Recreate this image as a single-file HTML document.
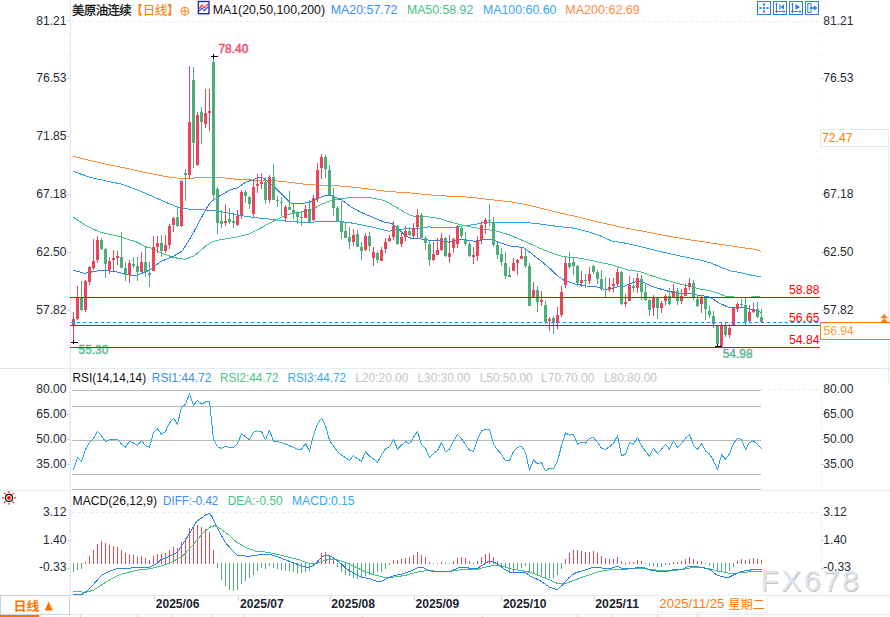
<!DOCTYPE html>
<html><head><meta charset="utf-8"><title>chart</title>
<style>html,body{margin:0;padding:0;background:#fff;overflow:hidden}body{width:890px;height:617px;font-family:"Liberation Sans",sans-serif}</style></head>
<body>
<svg width="890" height="617" viewBox="0 0 890 617" style="display:block">
<rect width="890" height="617" fill="#ffffff"/>
<g shape-rendering="crispEdges" stroke="#e3ebf2" stroke-width="1">
<line x1="70.5" y1="0" x2="70.5" y2="596"/>
<line x1="0" y1="368.5" x2="890" y2="368.5"/>
<line x1="0" y1="490.5" x2="71" y2="490.5"/>
<line x1="761" y1="490.5" x2="890" y2="490.5"/>
<line x1="0" y1="595.5" x2="890" y2="595.5"/>
<line x1="70" y1="614.5" x2="890" y2="614.5"/>
<line x1="888.5" y1="129" x2="888.5" y2="384"/>
</g>
<g shape-rendering="crispEdges" stroke="#e4edf4" stroke-width="1" stroke-dasharray="3 3">
<line x1="72" y1="21.5" x2="818" y2="21.5"/>
<line x1="761" y1="389.5" x2="818" y2="389.5"/>
<line x1="72" y1="512.5" x2="818" y2="512.5"/>
</g>
<g shape-rendering="crispEdges" stroke="#c9d6e2" stroke-width="1"><line x1="67" y1="20.5" x2="70" y2="20.5"/><line x1="69" y1="32.5" x2="70" y2="32.5"/><line x1="821" y1="32.5" x2="822" y2="32.5"/><line x1="69" y1="43.5" x2="70" y2="43.5"/><line x1="821" y1="43.5" x2="822" y2="43.5"/><line x1="69" y1="55.5" x2="70" y2="55.5"/><line x1="821" y1="55.5" x2="822" y2="55.5"/><line x1="69" y1="66.5" x2="70" y2="66.5"/><line x1="821" y1="66.5" x2="822" y2="66.5"/><line x1="67" y1="78.5" x2="70" y2="78.5"/><line x1="821" y1="78.5" x2="824" y2="78.5"/><line x1="69" y1="90.5" x2="70" y2="90.5"/><line x1="821" y1="90.5" x2="822" y2="90.5"/><line x1="69" y1="101.5" x2="70" y2="101.5"/><line x1="821" y1="101.5" x2="822" y2="101.5"/><line x1="69" y1="113.5" x2="70" y2="113.5"/><line x1="821" y1="113.5" x2="822" y2="113.5"/><line x1="69" y1="124.5" x2="70" y2="124.5"/><line x1="821" y1="124.5" x2="822" y2="124.5"/><line x1="67" y1="136.5" x2="70" y2="136.5"/><line x1="821" y1="136.5" x2="824" y2="136.5"/><line x1="69" y1="148.5" x2="70" y2="148.5"/><line x1="821" y1="148.5" x2="822" y2="148.5"/><line x1="69" y1="159.5" x2="70" y2="159.5"/><line x1="821" y1="159.5" x2="822" y2="159.5"/><line x1="69" y1="171.5" x2="70" y2="171.5"/><line x1="821" y1="171.5" x2="822" y2="171.5"/><line x1="69" y1="182.5" x2="70" y2="182.5"/><line x1="821" y1="182.5" x2="822" y2="182.5"/><line x1="67" y1="194.5" x2="70" y2="194.5"/><line x1="821" y1="194.5" x2="824" y2="194.5"/><line x1="69" y1="206.5" x2="70" y2="206.5"/><line x1="821" y1="206.5" x2="822" y2="206.5"/><line x1="69" y1="217.5" x2="70" y2="217.5"/><line x1="821" y1="217.5" x2="822" y2="217.5"/><line x1="69" y1="229.5" x2="70" y2="229.5"/><line x1="821" y1="229.5" x2="822" y2="229.5"/><line x1="69" y1="240.5" x2="70" y2="240.5"/><line x1="821" y1="240.5" x2="822" y2="240.5"/><line x1="67" y1="252.5" x2="70" y2="252.5"/><line x1="821" y1="252.5" x2="824" y2="252.5"/><line x1="69" y1="264.5" x2="70" y2="264.5"/><line x1="821" y1="264.5" x2="822" y2="264.5"/><line x1="69" y1="275.5" x2="70" y2="275.5"/><line x1="821" y1="275.5" x2="822" y2="275.5"/><line x1="69" y1="287.5" x2="70" y2="287.5"/><line x1="821" y1="287.5" x2="822" y2="287.5"/><line x1="69" y1="298.5" x2="70" y2="298.5"/><line x1="821" y1="298.5" x2="822" y2="298.5"/><line x1="67" y1="310.5" x2="70" y2="310.5"/><line x1="821" y1="310.5" x2="824" y2="310.5"/><line x1="69" y1="322.5" x2="70" y2="322.5"/><line x1="821" y1="322.5" x2="822" y2="322.5"/><line x1="69" y1="333.5" x2="70" y2="333.5"/><line x1="821" y1="333.5" x2="822" y2="333.5"/><line x1="69" y1="345.5" x2="70" y2="345.5"/><line x1="821" y1="345.5" x2="822" y2="345.5"/><line x1="69" y1="356.5" x2="70" y2="356.5"/><line x1="821" y1="356.5" x2="822" y2="356.5"/></g>
<g shape-rendering="crispEdges" stroke="#d5e0ea" stroke-width="1" stroke-dasharray="1 2">
<line x1="69.5" y1="392" x2="69.5" y2="488"/><line x1="821.5" y1="393" x2="821.5" y2="485"/>
<line x1="69.5" y1="506" x2="69.5" y2="594"/><line x1="821.5" y1="506" x2="821.5" y2="594"/>
</g>
<text x="66.50" y="24.51" font-size="12.10" fill="#262b38" font-family="Liberation Sans, sans-serif" text-anchor="end" >81.21</text>
<text x="823.30" y="24.51" font-size="12.10" fill="#262b38" font-family="Liberation Sans, sans-serif" >81.21</text>
<text x="66.50" y="82.48" font-size="12.10" fill="#262b38" font-family="Liberation Sans, sans-serif" text-anchor="end" >76.53</text>
<text x="823.30" y="82.48" font-size="12.10" fill="#262b38" font-family="Liberation Sans, sans-serif" >76.53</text>
<text x="66.50" y="140.44" font-size="12.10" fill="#262b38" font-family="Liberation Sans, sans-serif" text-anchor="end" >71.85</text>
<text x="823.30" y="140.44" font-size="12.10" fill="#262b38" font-family="Liberation Sans, sans-serif" >71.85</text>
<text x="66.50" y="198.28" font-size="12.10" fill="#262b38" font-family="Liberation Sans, sans-serif" text-anchor="end" >67.18</text>
<text x="823.30" y="198.28" font-size="12.10" fill="#262b38" font-family="Liberation Sans, sans-serif" >67.18</text>
<text x="66.50" y="256.24" font-size="12.10" fill="#262b38" font-family="Liberation Sans, sans-serif" text-anchor="end" >62.50</text>
<text x="823.30" y="256.24" font-size="12.10" fill="#262b38" font-family="Liberation Sans, sans-serif" >62.50</text>
<text x="66.50" y="314.20" font-size="12.10" fill="#262b38" font-family="Liberation Sans, sans-serif" text-anchor="end" >57.82</text>
<text x="823.30" y="314.20" font-size="12.10" fill="#262b38" font-family="Liberation Sans, sans-serif" >57.82</text>
<text x="66.50" y="393.10" font-size="12.10" fill="#262b38" font-family="Liberation Sans, sans-serif" text-anchor="end" >80.00</text>
<text x="823.30" y="393.10" font-size="12.10" fill="#262b38" font-family="Liberation Sans, sans-serif" >80.00</text>
<text x="66.50" y="418.10" font-size="12.10" fill="#262b38" font-family="Liberation Sans, sans-serif" text-anchor="end" >65.00</text>
<text x="823.30" y="418.10" font-size="12.10" fill="#262b38" font-family="Liberation Sans, sans-serif" >65.00</text>
<text x="66.50" y="442.90" font-size="12.10" fill="#262b38" font-family="Liberation Sans, sans-serif" text-anchor="end" >50.00</text>
<text x="823.30" y="442.90" font-size="12.10" fill="#262b38" font-family="Liberation Sans, sans-serif" >50.00</text>
<text x="66.50" y="468.10" font-size="12.10" fill="#262b38" font-family="Liberation Sans, sans-serif" text-anchor="end" >35.00</text>
<text x="823.30" y="468.10" font-size="12.10" fill="#262b38" font-family="Liberation Sans, sans-serif" >35.00</text>
<text x="66.50" y="516.10" font-size="12.10" fill="#262b38" font-family="Liberation Sans, sans-serif" text-anchor="end" >3.12</text>
<text x="823.30" y="516.10" font-size="12.10" fill="#262b38" font-family="Liberation Sans, sans-serif" >3.12</text>
<text x="66.50" y="543.50" font-size="12.10" fill="#262b38" font-family="Liberation Sans, sans-serif" text-anchor="end" >1.40</text>
<text x="823.30" y="543.50" font-size="12.10" fill="#262b38" font-family="Liberation Sans, sans-serif" >1.40</text>
<text x="66.50" y="571.40" font-size="12.10" fill="#262b38" font-family="Liberation Sans, sans-serif" text-anchor="end" >-0.33</text>
<g shape-rendering="crispEdges" stroke="#c9d6e2" stroke-width="1"><line x1="821" y1="414.5" x2="824" y2="414.5"/><line x1="67" y1="414.5" x2="70" y2="414.5"/><line x1="821" y1="439.5" x2="824" y2="439.5"/><line x1="67" y1="439.5" x2="70" y2="439.5"/><line x1="821" y1="464.5" x2="824" y2="464.5"/><line x1="67" y1="464.5" x2="70" y2="464.5"/><line x1="821" y1="540.5" x2="824" y2="540.5"/><line x1="67" y1="540.5" x2="70" y2="540.5"/><line x1="821" y1="568.5" x2="824" y2="568.5"/><line x1="67" y1="568.5" x2="70" y2="568.5"/></g>
<g shape-rendering="crispEdges" stroke="#b9b9b9" stroke-width="1">
<line x1="72" y1="390.5" x2="761" y2="390.5"/>
<line x1="72" y1="406.5" x2="761" y2="406.5"/>
<line x1="72" y1="440.5" x2="761" y2="440.5"/>
<line x1="72" y1="474.5" x2="761" y2="474.5"/>
<line x1="72" y1="489.5" x2="761" y2="489.5"/>
</g>
<polyline fill="none" stroke="#ff8b34" stroke-width="1.00" stroke-linejoin="round" stroke-linecap="round" points="73.1,156.2 86.2,159.6 106.5,164.3 126.7,168.3 146.9,172.8 167.1,176.8 177.2,178.0 190.2,178.2 203.7,177.5 223.9,177.9 237.4,179.3 254.3,180.1 271.1,180.3 288.0,182.1 304.8,184.2 320.0,185.4 335.3,185.6 360.6,187.9 385.8,191.3 411.1,193.0 436.4,195.5 450.0,196.2 470.2,197.2 490.5,199.6 510.7,201.8 526.9,204.7 543.0,208.7 559.2,212.8 575.4,216.4 591.6,220.5 607.8,224.1 621.9,227.5 640.5,230.7 660.7,234.8 680.9,238.4 701.1,241.5 721.4,244.5 741.6,247.5 753.7,249.1 760.8,251.2" shape-rendering="crispEdges"/>
<polyline fill="none" stroke="#2ea7e0" stroke-width="1.00" stroke-linejoin="round" stroke-linecap="round" points="73.1,171.4 90.3,177.4 106.5,181.1 120.6,183.8 136.8,189.6 153.0,196.6 169.2,203.7 181.3,208.2 191.4,209.4 212.1,210.3 225.6,212.5 242.5,215.8 254.3,217.5 271.1,219.2 288.0,221.4 304.8,222.3 320.0,221.8 323.5,221.1 340.3,221.6 353.8,223.3 374.0,227.5 389.2,231.3 395.5,229.5 401.0,229.2 417.4,228.3 429.2,226.9 437.6,228.0 451.1,227.8 459.6,226.3 471.4,225.0 483.1,222.8 494.5,222.4 526.9,222.5 541.0,224.1 555.2,226.1 573.4,228.1 587.5,231.6 599.7,235.6 612.1,241.2 624.5,243.0 640.5,246.6 660.7,251.6 680.9,256.2 701.1,260.3 711.2,263.1 717.6,266.0 725.4,268.8 731.1,271.1 741.6,272.8 748.0,274.4 753.7,275.8 761.0,276.6" shape-rendering="crispEdges"/>
<polyline fill="none" stroke="#45c285" stroke-width="1.00" stroke-linejoin="round" stroke-linecap="round" points="73.1,217.0 86.2,225.8 100.0,232.0 121.0,237.0 136.8,242.1 146.0,246.9 153.0,248.5 160.4,252.6 173.9,257.6 184.8,259.3 194.1,256.0 205.9,245.8 211.0,242.5 217.2,240.3 237.4,236.9 249.2,234.0 261.0,227.8 272.8,221.4 284.6,215.6 294.7,212.8 304.8,211.6 313.3,209.1 320.1,204.8 331.9,200.2 343.7,198.4 353.8,197.2 369.0,197.5 384.2,200.4 393.8,205.9 403.9,211.8 412.4,216.0 425.8,216.6 439.3,218.4 451.1,222.2 460.0,224.6 472.2,227.2 484.4,229.2 498.5,231.4 510.7,235.4 524.8,241.4 539.0,247.9 551.1,252.8 563.3,256.7 579.4,258.1 595.6,261.4 611.8,264.9 628.2,270.0 640.0,271.6 650.2,275.3 663.7,279.5 678.9,283.7 689.0,286.2 700.8,289.3 709.2,290.5 719.3,293.8 726.1,296.3 731.5,296.5 736.0,297.4 750.0,297.4 752.0,296.5 760.0,296.5" shape-rendering="crispEdges"/>
<polyline fill="none" stroke="#2b83ea" stroke-width="1.00" stroke-linejoin="round" stroke-linecap="round" points="73.4,270.2 84.5,273.3 101.4,270.2 116.6,271.9 130.0,275.3 136.8,275.3 148.6,270.6 160.4,261.8 173.9,256.0 182.3,250.9 190.7,237.4 197.0,226.0 205.4,210.0 210.5,202.4 217.2,197.3 230.7,189.7 237.4,188.0 245.8,182.1 254.3,179.6 257.6,177.4 261.9,177.4 266.1,180.1 274.5,187.2 282.9,195.6 289.7,202.4 293.0,203.7 303.2,203.2 309.9,202.3 318.4,198.0 326.0,195.2 331.9,195.5 342.0,200.1 350.4,206.5 360.6,212.2 372.0,217.0 383.7,221.9 392.3,223.8 398.5,229.0 405.0,235.6 412.0,238.7 424.2,239.1 432.6,241.0 441.0,240.5 449.5,242.3 458.0,239.4 466.2,239.8 474.5,241.2 484.6,239.6 492.5,239.7 500.6,243.0 510.7,246.1 523.5,247.5 532.0,254.0 541.0,260.9 547.3,266.2 557.4,275.6 564.2,280.5 574.3,283.9 586.1,286.0 595.0,286.1 600.9,288.4 605.5,289.9 610.2,288.8 617.2,287.0 623.0,286.8 628.9,284.1 635.9,281.8 641.7,281.5 646.4,283.5 650.0,285.6 657.0,287.9 665.4,290.5 675.5,293.0 685.6,293.8 692.4,293.8 699.1,295.5 707.5,296.4 712.6,298.9 719.3,303.1 727.8,307.0 734.5,307.6 742.9,307.3 749.7,309.0 756.4,310.3 761.1,312.4" shape-rendering="crispEdges"/>
<g shape-rendering="crispEdges" fill="#e8465b"><rect x="72" y="319" width="3" height="6"/><rect x="73" y="312" width="1" height="30"/><rect x="76" y="298" width="3" height="21"/><rect x="77" y="286" width="1" height="34"/><rect x="84" y="281" width="3" height="29"/><rect x="85" y="280" width="1" height="32"/><rect x="88" y="267" width="3" height="15"/><rect x="89" y="266" width="1" height="19"/><rect x="92" y="261" width="3" height="7"/><rect x="93" y="239" width="1" height="31"/><rect x="96" y="240" width="3" height="20"/><rect x="97" y="236" width="1" height="27"/><rect x="108" y="261" width="3" height="9"/><rect x="109" y="257" width="1" height="17"/><rect x="112" y="258" width="3" height="2"/><rect x="113" y="250" width="1" height="21"/><rect x="116" y="256" width="3" height="2"/><rect x="117" y="251" width="1" height="14"/><rect x="128" y="263" width="3" height="12"/><rect x="129" y="260" width="1" height="23"/><rect x="140" y="262" width="3" height="10"/><rect x="141" y="252" width="1" height="20"/><rect x="152" y="247" width="3" height="24"/><rect x="153" y="236" width="1" height="35"/><rect x="156" y="243" width="3" height="4"/><rect x="157" y="236" width="1" height="17"/><rect x="164" y="245" width="3" height="6"/><rect x="165" y="235" width="1" height="18"/><rect x="168" y="226" width="3" height="19"/><rect x="169" y="224" width="1" height="25"/><rect x="172" y="218" width="3" height="7"/><rect x="173" y="217" width="1" height="15"/><rect x="180" y="181" width="3" height="45"/><rect x="181" y="180" width="1" height="47"/><rect x="188" y="122" width="3" height="53"/><rect x="189" y="66" width="1" height="112"/><rect x="196" y="115" width="3" height="50"/><rect x="197" y="112" width="1" height="54"/><rect x="204" y="113" width="3" height="11"/><rect x="205" y="89" width="1" height="39"/><rect x="208" y="111" width="3" height="2"/><rect x="209" y="89" width="1" height="42"/><rect x="224" y="221" width="3" height="2"/><rect x="225" y="204" width="1" height="22"/><rect x="236" y="216" width="3" height="9"/><rect x="237" y="210" width="1" height="16"/><rect x="240" y="192" width="3" height="23"/><rect x="241" y="190" width="1" height="29"/><rect x="252" y="187" width="3" height="27"/><rect x="253" y="180" width="1" height="37"/><rect x="256" y="184" width="3" height="2"/><rect x="257" y="174" width="1" height="19"/><rect x="260" y="182" width="3" height="2"/><rect x="261" y="173" width="1" height="16"/><rect x="268" y="177" width="3" height="23"/><rect x="269" y="175" width="1" height="28"/><rect x="284" y="207" width="3" height="11"/><rect x="285" y="205" width="1" height="17"/><rect x="304" y="209" width="3" height="9"/><rect x="305" y="205" width="1" height="13"/><rect x="312" y="198" width="3" height="22"/><rect x="313" y="195" width="1" height="26"/><rect x="316" y="170" width="3" height="28"/><rect x="317" y="163" width="1" height="39"/><rect x="320" y="157" width="3" height="11"/><rect x="321" y="154" width="1" height="25"/><rect x="352" y="235" width="3" height="7"/><rect x="353" y="229" width="1" height="17"/><rect x="364" y="236" width="3" height="14"/><rect x="365" y="233" width="1" height="18"/><rect x="372" y="252" width="3" height="6"/><rect x="373" y="247" width="1" height="19"/><rect x="380" y="250" width="3" height="11"/><rect x="381" y="247" width="1" height="14"/><rect x="384" y="242" width="3" height="7"/><rect x="385" y="238" width="1" height="15"/><rect x="388" y="238" width="3" height="3"/><rect x="389" y="235" width="1" height="7"/><rect x="392" y="226" width="3" height="11"/><rect x="393" y="221" width="1" height="19"/><rect x="400" y="237" width="3" height="7"/><rect x="401" y="232" width="1" height="15"/><rect x="404" y="231" width="3" height="6"/><rect x="405" y="226" width="1" height="15"/><rect x="412" y="228" width="3" height="8"/><rect x="413" y="223" width="1" height="15"/><rect x="416" y="215" width="3" height="12"/><rect x="417" y="209" width="1" height="29"/><rect x="432" y="254" width="3" height="6"/><rect x="433" y="242" width="1" height="19"/><rect x="436" y="250" width="3" height="5"/><rect x="437" y="238" width="1" height="17"/><rect x="440" y="238" width="3" height="12"/><rect x="441" y="233" width="1" height="18"/><rect x="448" y="253" width="3" height="4"/><rect x="449" y="235" width="1" height="28"/><rect x="452" y="239" width="3" height="9"/><rect x="453" y="238" width="1" height="15"/><rect x="456" y="227" width="3" height="17"/><rect x="457" y="225" width="1" height="23"/><rect x="472" y="255" width="3" height="2"/><rect x="473" y="247" width="1" height="17"/><rect x="476" y="240" width="3" height="16"/><rect x="477" y="236" width="1" height="25"/><rect x="480" y="225" width="3" height="15"/><rect x="481" y="221" width="1" height="23"/><rect x="484" y="220" width="3" height="4"/><rect x="485" y="218" width="1" height="16"/><rect x="512" y="263" width="3" height="8"/><rect x="513" y="258" width="1" height="13"/><rect x="516" y="260" width="3" height="3"/><rect x="517" y="259" width="1" height="16"/><rect x="520" y="256" width="3" height="3"/><rect x="521" y="248" width="1" height="11"/><rect x="532" y="290" width="3" height="7"/><rect x="533" y="282" width="1" height="16"/><rect x="540" y="300" width="3" height="2"/><rect x="541" y="291" width="1" height="15"/><rect x="548" y="319" width="3" height="2"/><rect x="549" y="317" width="1" height="14"/><rect x="556" y="315" width="3" height="8"/><rect x="557" y="307" width="1" height="22"/><rect x="560" y="292" width="3" height="23"/><rect x="561" y="286" width="1" height="31"/><rect x="564" y="263" width="3" height="22"/><rect x="565" y="257" width="1" height="31"/><rect x="580" y="280" width="3" height="3"/><rect x="581" y="271" width="1" height="16"/><rect x="588" y="274" width="3" height="7"/><rect x="589" y="267" width="1" height="17"/><rect x="608" y="287" width="3" height="3"/><rect x="609" y="278" width="1" height="14"/><rect x="612" y="284" width="3" height="2"/><rect x="613" y="278" width="1" height="14"/><rect x="616" y="272" width="3" height="12"/><rect x="617" y="268" width="1" height="19"/><rect x="624" y="302" width="3" height="2"/><rect x="625" y="294" width="1" height="13"/><rect x="628" y="285" width="3" height="16"/><rect x="629" y="276" width="1" height="25"/><rect x="636" y="278" width="3" height="10"/><rect x="637" y="273" width="1" height="20"/><rect x="652" y="298" width="3" height="10"/><rect x="653" y="295" width="1" height="21"/><rect x="660" y="303" width="3" height="5"/><rect x="661" y="301" width="1" height="12"/><rect x="664" y="296" width="3" height="5"/><rect x="665" y="294" width="1" height="11"/><rect x="672" y="291" width="3" height="6"/><rect x="673" y="284" width="1" height="13"/><rect x="680" y="296" width="3" height="5"/><rect x="681" y="289" width="1" height="15"/><rect x="684" y="288" width="3" height="8"/><rect x="685" y="283" width="1" height="13"/><rect x="688" y="283" width="3" height="4"/><rect x="689" y="278" width="1" height="12"/><rect x="700" y="297" width="3" height="7"/><rect x="701" y="296" width="1" height="17"/><rect x="720" y="326" width="3" height="20"/><rect x="721" y="322" width="1" height="24"/><rect x="728" y="328" width="3" height="7"/><rect x="729" y="324" width="1" height="14"/><rect x="732" y="308" width="3" height="17"/><rect x="733" y="307" width="1" height="18"/><rect x="736" y="304" width="3" height="5"/><rect x="737" y="302" width="1" height="10"/><rect x="748" y="312" width="3" height="9"/><rect x="749" y="305" width="1" height="17"/><rect x="752" y="310" width="3" height="2"/><rect x="753" y="303" width="1" height="10"/></g>
<g shape-rendering="crispEdges" fill="#4caf7b"><rect x="80" y="298" width="3" height="12"/><rect x="81" y="281" width="1" height="30"/><rect x="100" y="240" width="3" height="9"/><rect x="101" y="238" width="1" height="12"/><rect x="104" y="249" width="3" height="15"/><rect x="105" y="248" width="1" height="30"/><rect x="120" y="257" width="3" height="11"/><rect x="121" y="232" width="1" height="36"/><rect x="124" y="268" width="3" height="7"/><rect x="125" y="262" width="1" height="19"/><rect x="132" y="264" width="3" height="2"/><rect x="133" y="257" width="1" height="11"/><rect x="136" y="266" width="3" height="6"/><rect x="137" y="257" width="1" height="24"/><rect x="144" y="262" width="3" height="10"/><rect x="145" y="247" width="1" height="30"/><rect x="148" y="273" width="3" height="2"/><rect x="149" y="262" width="1" height="25"/><rect x="160" y="243" width="3" height="8"/><rect x="161" y="235" width="1" height="22"/><rect x="176" y="217" width="3" height="9"/><rect x="177" y="207" width="1" height="20"/><rect x="184" y="173" width="3" height="2"/><rect x="185" y="169" width="1" height="32"/><rect x="192" y="80" width="3" height="63"/><rect x="193" y="67" width="1" height="101"/><rect x="200" y="112" width="3" height="10"/><rect x="201" y="107" width="1" height="37"/><rect x="212" y="62" width="3" height="133"/><rect x="213" y="56" width="1" height="145"/><rect x="216" y="189" width="3" height="34"/><rect x="217" y="187" width="1" height="47"/><rect x="220" y="221" width="3" height="3"/><rect x="221" y="210" width="1" height="18"/><rect x="228" y="219" width="3" height="3"/><rect x="229" y="208" width="1" height="16"/><rect x="232" y="221" width="3" height="2"/><rect x="233" y="212" width="1" height="16"/><rect x="244" y="192" width="3" height="4"/><rect x="245" y="190" width="1" height="13"/><rect x="248" y="197" width="3" height="7"/><rect x="249" y="196" width="1" height="13"/><rect x="264" y="182" width="3" height="18"/><rect x="265" y="177" width="1" height="27"/><rect x="272" y="177" width="3" height="23"/><rect x="273" y="164" width="1" height="36"/><rect x="276" y="200" width="3" height="1"/><rect x="277" y="196" width="1" height="11"/><rect x="280" y="202" width="3" height="1"/><rect x="281" y="197" width="1" height="19"/><rect x="288" y="207" width="3" height="3"/><rect x="289" y="191" width="1" height="19"/><rect x="292" y="210" width="3" height="4"/><rect x="293" y="204" width="1" height="15"/><rect x="296" y="212" width="3" height="5"/><rect x="297" y="211" width="1" height="13"/><rect x="300" y="217" width="3" height="1"/><rect x="301" y="212" width="1" height="14"/><rect x="308" y="209" width="3" height="13"/><rect x="309" y="200" width="1" height="22"/><rect x="324" y="157" width="3" height="12"/><rect x="325" y="155" width="1" height="23"/><rect x="328" y="170" width="3" height="25"/><rect x="329" y="165" width="1" height="30"/><rect x="332" y="196" width="3" height="12"/><rect x="333" y="188" width="1" height="28"/><rect x="336" y="208" width="3" height="13"/><rect x="337" y="206" width="1" height="15"/><rect x="340" y="222" width="3" height="10"/><rect x="341" y="201" width="1" height="38"/><rect x="344" y="231" width="3" height="7"/><rect x="345" y="222" width="1" height="16"/><rect x="348" y="237" width="3" height="5"/><rect x="349" y="227" width="1" height="22"/><rect x="356" y="234" width="3" height="13"/><rect x="357" y="230" width="1" height="17"/><rect x="360" y="247" width="3" height="4"/><rect x="361" y="242" width="1" height="18"/><rect x="368" y="236" width="3" height="10"/><rect x="369" y="232" width="1" height="19"/><rect x="376" y="253" width="3" height="7"/><rect x="377" y="251" width="1" height="12"/><rect x="396" y="226" width="3" height="18"/><rect x="397" y="225" width="1" height="20"/><rect x="408" y="231" width="3" height="4"/><rect x="409" y="227" width="1" height="9"/><rect x="420" y="215" width="3" height="23"/><rect x="421" y="213" width="1" height="25"/><rect x="424" y="238" width="3" height="5"/><rect x="425" y="236" width="1" height="14"/><rect x="428" y="244" width="3" height="16"/><rect x="429" y="241" width="1" height="25"/><rect x="444" y="238" width="3" height="18"/><rect x="445" y="237" width="1" height="20"/><rect x="460" y="228" width="3" height="8"/><rect x="461" y="226" width="1" height="12"/><rect x="464" y="239" width="3" height="5"/><rect x="465" y="232" width="1" height="14"/><rect x="468" y="244" width="3" height="12"/><rect x="469" y="242" width="1" height="15"/><rect x="488" y="220" width="3" height="1"/><rect x="489" y="204" width="1" height="22"/><rect x="492" y="222" width="3" height="23"/><rect x="493" y="217" width="1" height="30"/><rect x="496" y="245" width="3" height="10"/><rect x="497" y="242" width="1" height="17"/><rect x="500" y="254" width="3" height="8"/><rect x="501" y="248" width="1" height="18"/><rect x="504" y="263" width="3" height="13"/><rect x="505" y="252" width="1" height="27"/><rect x="508" y="275" width="3" height="2"/><rect x="509" y="267" width="1" height="10"/><rect x="524" y="256" width="3" height="10"/><rect x="525" y="248" width="1" height="20"/><rect x="528" y="266" width="3" height="40"/><rect x="529" y="263" width="1" height="43"/><rect x="536" y="290" width="3" height="12"/><rect x="537" y="286" width="1" height="26"/><rect x="544" y="305" width="3" height="17"/><rect x="545" y="301" width="1" height="23"/><rect x="552" y="318" width="3" height="5"/><rect x="553" y="316" width="1" height="18"/><rect x="568" y="263" width="3" height="4"/><rect x="569" y="252" width="1" height="17"/><rect x="572" y="262" width="3" height="4"/><rect x="573" y="258" width="1" height="17"/><rect x="576" y="266" width="3" height="17"/><rect x="577" y="265" width="1" height="21"/><rect x="584" y="280" width="3" height="1"/><rect x="585" y="274" width="1" height="14"/><rect x="592" y="266" width="3" height="6"/><rect x="593" y="265" width="1" height="9"/><rect x="596" y="272" width="3" height="7"/><rect x="597" y="270" width="1" height="14"/><rect x="600" y="279" width="3" height="9"/><rect x="601" y="270" width="1" height="21"/><rect x="604" y="289" width="3" height="1"/><rect x="605" y="277" width="1" height="20"/><rect x="620" y="272" width="3" height="32"/><rect x="621" y="271" width="1" height="34"/><rect x="632" y="286" width="3" height="2"/><rect x="633" y="278" width="1" height="14"/><rect x="640" y="279" width="3" height="13"/><rect x="641" y="275" width="1" height="25"/><rect x="644" y="292" width="3" height="8"/><rect x="645" y="283" width="1" height="18"/><rect x="648" y="300" width="3" height="10"/><rect x="649" y="299" width="1" height="17"/><rect x="656" y="298" width="3" height="10"/><rect x="657" y="297" width="1" height="22"/><rect x="668" y="296" width="3" height="8"/><rect x="669" y="288" width="1" height="17"/><rect x="676" y="291" width="3" height="10"/><rect x="677" y="288" width="1" height="17"/><rect x="692" y="283" width="3" height="15"/><rect x="693" y="280" width="1" height="20"/><rect x="696" y="299" width="3" height="7"/><rect x="697" y="296" width="1" height="11"/><rect x="704" y="298" width="3" height="11"/><rect x="705" y="296" width="1" height="24"/><rect x="708" y="311" width="3" height="4"/><rect x="709" y="306" width="1" height="12"/><rect x="712" y="316" width="3" height="8"/><rect x="713" y="311" width="1" height="17"/><rect x="716" y="326" width="3" height="18"/><rect x="717" y="326" width="1" height="20"/><rect x="724" y="326" width="3" height="9"/><rect x="725" y="323" width="1" height="14"/><rect x="740" y="304" width="3" height="1"/><rect x="741" y="299" width="1" height="8"/><rect x="744" y="305" width="3" height="17"/><rect x="745" y="298" width="1" height="27"/><rect x="756" y="309" width="3" height="8"/><rect x="757" y="302" width="1" height="16"/><rect x="760" y="317" width="3" height="5"/><rect x="761" y="309" width="1" height="14"/></g>
<text x="218.40" y="52.70" font-size="12.20" fill="#f04a62" font-family="Liberation Sans, sans-serif" textLength="30.00" lengthAdjust="spacingAndGlyphs" stroke="#ef5068" stroke-width="0.45">78.40</text>
<text x="78.60" y="354.20" font-size="12.40" fill="#5dba9b" font-family="Liberation Sans, sans-serif" textLength="29.70" lengthAdjust="spacingAndGlyphs" stroke="#5dba9b" stroke-width="0.45">55.30</text>
<text x="722.70" y="358.00" font-size="12.30" fill="#5dba9b" font-family="Liberation Sans, sans-serif" textLength="29.90" lengthAdjust="spacingAndGlyphs" stroke="#5dba9b" stroke-width="0.45">54.98</text>
<g shape-rendering="crispEdges">
<line x1="71" y1="322.5" x2="820" y2="322.5" stroke="#1e88ff" stroke-width="1" stroke-dasharray="3 3"/>
<line x1="70" y1="297.5" x2="820" y2="297.5" stroke="#ff0000" stroke-width="1.3"/>
<line x1="70" y1="325.5" x2="820" y2="325.5" stroke="#ff0000" stroke-width="1.3"/>
<line x1="70" y1="347.5" x2="820" y2="347.5" stroke="#ff0000" stroke-width="1.3"/>
</g>
<text x="819.50" y="293.90" font-size="12.60" fill="#ff0000" font-family="Liberation Sans, sans-serif" text-anchor="end" textLength="30.60" lengthAdjust="spacingAndGlyphs" >58.88</text>
<text x="819.50" y="322.10" font-size="12.60" fill="#ff0000" font-family="Liberation Sans, sans-serif" text-anchor="end" textLength="30.60" lengthAdjust="spacingAndGlyphs" >56.65</text>
<text x="819.50" y="343.90" font-size="12.60" fill="#ff0000" font-family="Liberation Sans, sans-serif" text-anchor="end" textLength="30.60" lengthAdjust="spacingAndGlyphs" >54.84</text>
<g shape-rendering="crispEdges" stroke="#000" stroke-width="1"><line x1="211" y1="56.5" x2="218" y2="56.5"/><line x1="213.5" y1="54" x2="213.5" y2="59"/>
<line x1="71" y1="342.5" x2="78" y2="342.5"/><line x1="73.5" y1="340" x2="73.5" y2="344"/>
<line x1="715" y1="346.5" x2="722" y2="346.5"/><line x1="717.5" y1="344" x2="717.5" y2="346"/></g>
<g shape-rendering="crispEdges"><rect x="820.5" y="129.5" width="68" height="17" fill="#fff" stroke="#e1e9f1"/>
<path d="M891 322.5H820.5V339.5H891" fill="#fff" stroke="#ff7f0e" stroke-width="1"/></g>
<text x="822.00" y="141.90" font-size="12.40" fill="#ff7a00" font-family="Liberation Sans, sans-serif" textLength="30.40" lengthAdjust="spacingAndGlyphs" >72.47</text>
<text x="823.50" y="335.20" font-size="12.40" fill="#ff9a3c" font-family="Liberation Sans, sans-serif" textLength="30.20" lengthAdjust="spacingAndGlyphs" >56.94</text>
<path d="M880.2 318.3L884.2 314.1L888.2 318.3Z M880.2 322.5L884.2 318.3L888.2 322.5Z" fill="#ff7f0e"/>
<polyline fill="none" stroke="#2ea7e0" stroke-width="1.00" stroke-linejoin="round" stroke-linecap="round" points="73.5,469.3 77.5,457.3 81.5,461.3 85.5,449.3 89.5,442.4 93.5,438.5 97.5,431.4 101.5,435.6 105.5,441.9 109.5,439.5 113.5,439.2 117.5,439.2 121.5,444.0 125.5,447.2 129.5,441.3 133.5,443.0 137.5,445.5 141.5,440.5 145.5,445.7 149.5,447.2 153.5,432.5 157.5,428.9 161.5,434.0 165.5,431.5 169.5,423.0 173.5,418.2 177.5,424.3 181.5,406.6 185.5,404.5 189.5,393.5 193.5,405.6 197.5,400.3 201.5,404.1 205.5,402.0 209.5,401.3 213.5,439.3 217.5,446.7 221.5,448.4 225.5,446.2 229.5,447.3 233.5,447.3 237.5,443.5 241.5,434.0 245.5,436.6 249.5,439.9 253.5,432.3 257.5,430.9 261.5,431.5 265.5,439.9 269.5,430.2 273.5,441.4 277.5,441.4 281.5,442.9 285.5,444.1 289.5,445.6 293.5,447.3 297.5,449.2 301.5,449.2 305.5,443.5 309.5,451.3 313.5,435.1 317.5,423.9 321.5,418.2 325.5,425.6 329.5,440.3 333.5,445.9 337.5,451.6 341.5,455.1 345.5,457.6 349.5,460.4 353.5,455.5 357.5,458.9 361.5,461.0 365.5,451.9 369.5,456.2 373.5,458.9 377.5,462.1 381.5,455.1 385.5,448.8 389.5,446.7 393.5,439.3 397.5,449.2 401.5,445.2 405.5,441.4 409.5,443.9 413.5,437.2 417.5,431.5 421.5,444.6 425.5,448.4 429.5,457.2 433.5,453.4 437.5,450.5 441.5,442.5 445.5,451.9 449.5,449.2 453.5,441.4 457.5,434.4 461.5,438.7 465.5,444.6 469.5,450.3 473.5,451.3 477.5,439.3 481.5,430.9 485.5,429.4 489.5,429.4 493.5,444.1 497.5,449.8 501.5,454.4 505.5,461.0 509.5,460.7 513.5,451.3 517.5,447.7 521.5,446.2 525.5,452.6 529.5,470.3 533.5,459.7 537.5,464.0 541.5,462.5 545.5,470.9 549.5,468.4 553.5,468.8 557.5,461.4 561.5,445.6 565.5,433.0 569.5,435.1 573.5,434.7 577.5,444.1 581.5,442.5 585.5,443.1 589.5,438.2 593.5,437.6 597.5,442.5 601.5,448.1 605.5,449.4 609.5,446.7 613.5,443.5 617.5,435.7 621.5,455.5 625.5,454.5 629.5,442.5 633.5,444.1 637.5,437.2 641.5,446.0 645.5,451.3 649.5,456.2 653.5,448.4 657.5,453.6 661.5,449.2 665.5,444.1 669.5,449.2 673.5,441.0 677.5,447.2 681.5,443.5 685.5,438.2 689.5,434.4 693.5,445.2 697.5,449.4 701.5,443.5 705.5,450.9 709.5,454.0 713.5,460.4 717.5,469.9 721.5,454.7 725.5,459.3 729.5,454.0 733.5,443.5 737.5,438.2 741.5,439.3 745.5,449.4 749.5,442.5 753.5,441.0 757.5,444.6 761.5,448.8" shape-rendering="crispEdges"/>
<g shape-rendering="crispEdges" fill="#e8465b"><rect x="85" y="562" width="1" height="2"/><rect x="89" y="556" width="1" height="8"/><rect x="93" y="550" width="1" height="14"/><rect x="97" y="544" width="1" height="20"/><rect x="101" y="541" width="1" height="23"/><rect x="105" y="543" width="1" height="21"/><rect x="109" y="545" width="1" height="19"/><rect x="113" y="546" width="1" height="18"/><rect x="117" y="547" width="1" height="17"/><rect x="121" y="550" width="1" height="14"/><rect x="125" y="553" width="1" height="11"/><rect x="129" y="554" width="1" height="10"/><rect x="133" y="555" width="1" height="9"/><rect x="137" y="557" width="1" height="7"/><rect x="141" y="556" width="1" height="8"/><rect x="145" y="558" width="1" height="6"/><rect x="149" y="560" width="1" height="4"/><rect x="153" y="556" width="1" height="8"/><rect x="157" y="554" width="1" height="10"/><rect x="161" y="554" width="1" height="10"/><rect x="165" y="553" width="1" height="11"/><rect x="169" y="550" width="1" height="14"/><rect x="173" y="547" width="1" height="17"/><rect x="177" y="548" width="1" height="16"/><rect x="181" y="542" width="1" height="22"/><rect x="185" y="538" width="1" height="26"/><rect x="189" y="528" width="1" height="36"/><rect x="193" y="528" width="1" height="36"/><rect x="197" y="525" width="1" height="39"/><rect x="201" y="527" width="1" height="37"/><rect x="205" y="529" width="1" height="35"/><rect x="209" y="532" width="1" height="32"/><rect x="213" y="550" width="1" height="14"/><rect x="317" y="560" width="1" height="4"/><rect x="321" y="553" width="1" height="11"/><rect x="325" y="552" width="1" height="12"/><rect x="329" y="555" width="1" height="9"/><rect x="333" y="559" width="1" height="5"/><rect x="393" y="560" width="1" height="4"/><rect x="397" y="560" width="1" height="4"/><rect x="401" y="559" width="1" height="5"/><rect x="405" y="558" width="1" height="6"/><rect x="409" y="557" width="1" height="7"/><rect x="413" y="555" width="1" height="9"/><rect x="417" y="552" width="1" height="12"/><rect x="421" y="555" width="1" height="9"/><rect x="425" y="557" width="1" height="7"/><rect x="429" y="562" width="1" height="2"/><rect x="441" y="562" width="1" height="2"/><rect x="453" y="561" width="1" height="3"/><rect x="457" y="558" width="1" height="6"/><rect x="461" y="557" width="1" height="7"/><rect x="465" y="558" width="1" height="6"/><rect x="469" y="561" width="1" height="3"/><rect x="473" y="563" width="1" height="1"/><rect x="477" y="561" width="1" height="3"/><rect x="481" y="557" width="1" height="7"/><rect x="485" y="554" width="1" height="10"/><rect x="489" y="553" width="1" height="11"/><rect x="493" y="557" width="1" height="7"/><rect x="497" y="561" width="1" height="3"/><rect x="565" y="559" width="1" height="5"/><rect x="569" y="553" width="1" height="11"/><rect x="573" y="550" width="1" height="14"/><rect x="577" y="550" width="1" height="14"/><rect x="581" y="551" width="1" height="13"/><rect x="585" y="552" width="1" height="12"/><rect x="589" y="552" width="1" height="12"/><rect x="593" y="551" width="1" height="13"/><rect x="597" y="553" width="1" height="11"/><rect x="601" y="556" width="1" height="8"/><rect x="605" y="558" width="1" height="6"/><rect x="609" y="559" width="1" height="5"/><rect x="613" y="559" width="1" height="5"/><rect x="617" y="557" width="1" height="7"/><rect x="621" y="561" width="1" height="3"/><rect x="629" y="562" width="1" height="2"/><rect x="633" y="562" width="1" height="2"/><rect x="637" y="560" width="1" height="4"/><rect x="641" y="561" width="1" height="3"/><rect x="673" y="562" width="1" height="2"/><rect x="677" y="562" width="1" height="2"/><rect x="681" y="561" width="1" height="3"/><rect x="685" y="559" width="1" height="5"/><rect x="689" y="557" width="1" height="7"/><rect x="693" y="559" width="1" height="5"/><rect x="697" y="561" width="1" height="3"/><rect x="701" y="561" width="1" height="3"/><rect x="737" y="561" width="1" height="3"/><rect x="741" y="559" width="1" height="5"/><rect x="745" y="560" width="1" height="4"/><rect x="749" y="559" width="1" height="5"/><rect x="753" y="558" width="1" height="6"/><rect x="757" y="559" width="1" height="5"/><rect x="761" y="560" width="1" height="4"/></g>
<g shape-rendering="crispEdges" fill="#4caf7b"><rect x="73" y="563" width="1" height="9"/><rect x="77" y="563" width="1" height="7"/><rect x="81" y="563" width="1" height="6"/><rect x="217" y="563" width="1" height="5"/><rect x="221" y="563" width="1" height="17"/><rect x="225" y="563" width="1" height="23"/><rect x="229" y="563" width="1" height="27"/><rect x="233" y="563" width="1" height="28"/><rect x="237" y="563" width="1" height="27"/><rect x="241" y="563" width="1" height="21"/><rect x="245" y="563" width="1" height="18"/><rect x="249" y="563" width="1" height="15"/><rect x="253" y="563" width="1" height="12"/><rect x="257" y="563" width="1" height="8"/><rect x="261" y="563" width="1" height="5"/><rect x="265" y="563" width="1" height="6"/><rect x="269" y="563" width="1" height="3"/><rect x="273" y="563" width="1" height="5"/><rect x="277" y="563" width="1" height="6"/><rect x="281" y="563" width="1" height="7"/><rect x="285" y="563" width="1" height="8"/><rect x="289" y="563" width="1" height="8"/><rect x="293" y="563" width="1" height="9"/><rect x="297" y="563" width="1" height="11"/><rect x="301" y="563" width="1" height="10"/><rect x="305" y="563" width="1" height="9"/><rect x="309" y="563" width="1" height="8"/><rect x="313" y="563" width="1" height="4"/><rect x="337" y="563" width="1" height="4"/><rect x="341" y="563" width="1" height="9"/><rect x="345" y="563" width="1" height="12"/><rect x="349" y="563" width="1" height="13"/><rect x="353" y="563" width="1" height="15"/><rect x="357" y="563" width="1" height="16"/><rect x="361" y="563" width="1" height="15"/><rect x="365" y="563" width="1" height="13"/><rect x="369" y="563" width="1" height="12"/><rect x="373" y="563" width="1" height="11"/><rect x="377" y="563" width="1" height="9"/><rect x="381" y="563" width="1" height="9"/><rect x="385" y="563" width="1" height="6"/><rect x="389" y="563" width="1" height="2"/><rect x="433" y="563" width="1" height="1"/><rect x="437" y="563" width="1" height="1"/><rect x="445" y="563" width="1" height="1"/><rect x="449" y="563" width="1" height="1"/><rect x="501" y="563" width="1" height="3"/><rect x="505" y="563" width="1" height="5"/><rect x="509" y="563" width="1" height="8"/><rect x="513" y="563" width="1" height="9"/><rect x="517" y="563" width="1" height="6"/><rect x="521" y="563" width="1" height="5"/><rect x="525" y="563" width="1" height="3"/><rect x="529" y="563" width="1" height="10"/><rect x="533" y="563" width="1" height="10"/><rect x="537" y="563" width="1" height="13"/><rect x="541" y="563" width="1" height="13"/><rect x="545" y="563" width="1" height="15"/><rect x="549" y="563" width="1" height="15"/><rect x="553" y="563" width="1" height="15"/><rect x="557" y="563" width="1" height="12"/><rect x="561" y="563" width="1" height="6"/><rect x="625" y="563" width="1" height="2"/><rect x="645" y="563" width="1" height="1"/><rect x="649" y="563" width="1" height="3"/><rect x="653" y="563" width="1" height="3"/><rect x="657" y="563" width="1" height="4"/><rect x="661" y="563" width="1" height="4"/><rect x="665" y="563" width="1" height="2"/><rect x="669" y="563" width="1" height="2"/><rect x="705" y="563" width="1" height="1"/><rect x="709" y="563" width="1" height="3"/><rect x="713" y="563" width="1" height="5"/><rect x="717" y="563" width="1" height="9"/><rect x="721" y="563" width="1" height="9"/><rect x="725" y="563" width="1" height="9"/><rect x="729" y="563" width="1" height="8"/><rect x="733" y="563" width="1" height="4"/></g>
<polyline fill="none" stroke="#45c285" stroke-width="1.00" stroke-linejoin="round" stroke-linecap="round" points="73.4,591.4 79.2,591.4 84.6,592.7 93.6,590.1 102.6,584.2 111.6,578.8 120.6,574.3 129.6,572.0 138.6,569.8 149.4,568.9 160.8,566.2 171.6,562.2 182.4,556.3 193.2,544.6 204.0,532.0 211.2,526.6 214.8,525.7 219.3,528.0 227.4,533.8 236.4,541.9 245.4,547.3 256.2,551.3 267.0,552.2 277.8,554.5 288.6,557.2 299.4,559.9 309.0,563.5 316.2,563.5 323.4,560.8 330.6,559.0 337.8,559.9 346.8,563.0 355.8,567.1 364.8,571.6 373.8,574.8 382.8,577.0 390.0,577.5 399.0,576.5 408.0,574.7 417.0,572.1 426.0,570.7 436.8,571.1 449.4,571.4 460.8,569.8 477.0,569.4 486.0,567.1 494.1,565.3 502.2,566.2 511.2,568.9 522.0,570.7 531.0,572.5 540.0,576.1 549.0,579.7 558.0,583.7 565.2,583.7 574.2,580.2 583.2,577.0 592.2,573.8 601.2,571.1 610.8,569.8 621.6,569.4 636.0,568.5 646.8,568.9 657.6,570.2 672.0,570.7 682.8,569.4 690.0,568.0 702.6,567.5 711.6,569.4 720.6,571.6 729.6,573.4 738.6,573.0 747.6,572.0 761.5,571.2" shape-rendering="crispEdges"/>
<polyline fill="none" stroke="#2b83ea" stroke-width="1.00" stroke-linejoin="round" stroke-linecap="round" points="73.4,594.4 81.9,594.4 86.4,591.4 93.6,584.2 101.7,575.2 109.8,571.2 117.9,568.4 126.0,568.9 133.2,567.5 137.7,568.0 144.0,567.1 149.4,567.5 156.6,563.5 160.8,559.9 169.8,556.3 177.0,552.7 186.0,539.2 196.8,521.2 205.8,514.9 209.4,513.5 212.1,516.7 218.4,530.2 225.6,542.8 232.8,550.9 237.7,555.4 249.0,556.3 258.0,555.0 268.8,554.1 279.6,557.6 290.4,561.7 301.2,565.8 309.0,567.6 316.2,563.5 321.6,557.2 326.1,555.0 332.4,557.2 339.6,562.6 346.8,568.9 354.0,573.4 361.2,577.0 370.2,578.8 377.4,581.5 381.0,581.5 386.4,578.8 393.6,575.6 402.6,573.9 411.6,570.7 417.9,567.5 423.3,567.5 429.6,570.7 436.8,572.0 444.0,571.6 449.4,572.0 454.8,569.4 459.5,567.5 467.1,567.5 469.8,568.5 477.0,568.5 482.4,565.3 488.7,561.2 492.3,561.2 498.6,564.8 504.0,568.9 510.3,572.5 525.6,572.5 531.0,576.5 540.0,580.6 549.0,586.9 557.1,589.6 563.4,584.2 568.8,577.9 574.2,573.4 581.4,571.1 588.6,568.9 594.0,567.1 599.4,567.1 603.0,568.5 610.8,568.5 617.1,566.2 622.5,568.9 632.4,568.9 636.0,567.5 643.2,567.5 650.4,570.2 657.6,571.2 668.4,571.2 673.8,569.4 681.9,569.4 688.2,566.6 695.4,566.6 702.6,567.5 709.8,569.4 717.0,575.2 726.0,577.5 729.6,577.0 736.8,573.4 742.2,571.2 747.6,570.7 753.0,569.4 761.5,569.4" shape-rendering="crispEdges"/>
<text x="72.10" y="14.50" font-size="12.40" fill="#111" stroke="#111" stroke-width="0.3" font-family="Liberation Sans, Noto Sans CJK SC, sans-serif" textLength="59.60" lengthAdjust="spacing">美原油连续</text>
<text x="130.60" y="14.50" font-size="12.40" fill="#ff7a00" stroke="#ff7a00" stroke-width="0.1" font-family="Liberation Sans, Noto Sans CJK SC, sans-serif" textLength="48.85" lengthAdjust="spacing">【日线】</text>
<g fill="none" stroke="#ff7a00" stroke-width="0.9"><circle cx="184.9" cy="11.2" r="4.0"/><line x1="180.9" y1="11.2" x2="188.9" y2="11.2"/><line x1="184.9" y1="7.2" x2="184.9" y2="15.2"/></g>
<g><rect x="198.4" y="1.5" width="10.6" height="12.2" fill="#fff" stroke="#1c2fa8" stroke-width="1.4"/><polyline points="199.3,8.6 201.8,5 204.2,8 208.4,3.6" fill="none" stroke="#ff2020" stroke-width="1.1"/><polyline points="199.3,11.2 201.8,8 204.2,10.6 208.4,6.6" fill="none" stroke="#2040ff" stroke-width="1.1"/></g>
<text x="212.70" y="13.70" font-size="12.40" fill="#111" font-family="Liberation Sans, sans-serif" textLength="112.40" lengthAdjust="spacingAndGlyphs" >MA1(20,50,100,200)</text>
<text x="330.80" y="13.70" font-size="12.40" fill="#3b8ff0" font-family="Liberation Sans, sans-serif" textLength="66.70" lengthAdjust="spacingAndGlyphs" >MA20:57.72</text>
<text x="406.90" y="13.70" font-size="12.40" fill="#45c285" font-family="Liberation Sans, sans-serif" textLength="66.40" lengthAdjust="spacingAndGlyphs" >MA50:58.92</text>
<text x="482.90" y="13.70" font-size="12.40" fill="#35a7ef" font-family="Liberation Sans, sans-serif" textLength="73.60" lengthAdjust="spacingAndGlyphs" >MA100:60.60</text>
<text x="565.30" y="13.70" font-size="12.40" fill="#ff8b4a" font-family="Liberation Sans, sans-serif" textLength="74.50" lengthAdjust="spacingAndGlyphs" >MA200:62.69</text>
<g><rect x="757.5" y="1.5" width="13" height="13" fill="#fff" stroke="#2a7fdc" stroke-width="1"/><rect x="773.5" y="1.5" width="13" height="13" fill="#fff" stroke="#2a7fdc" stroke-width="1"/><rect x="789.5" y="1.5" width="13" height="13" fill="#fff" stroke="#2a7fdc" stroke-width="1"/><rect x="805.5" y="1.5" width="13" height="13" fill="#fff" stroke="#2a7fdc" stroke-width="1"/>
<g fill="#2a7fdc"><rect x="763" y="3.5" width="2" height="2"/><rect x="763" y="10.5" width="2" height="2"/><rect x="763" y="7" width="2" height="2"/><rect x="759.3" y="7.2" width="2.4" height="1.6"/><rect x="766.3" y="7.2" width="2.4" height="1.6"/></g>
<g stroke="#2a7fdc" stroke-width="1" fill="#2a7fdc"><line x1="776.5" y1="3" x2="776.5" y2="13"/><line x1="775" y1="11.5" x2="785" y2="11.5"/><path d="M775 4.5L776.5 2.8L778 4.5Z M783.8 10L785.6 11.5L783.8 13Z" stroke="none"/><rect x="779.3" y="4.5" width="1.2" height="5" stroke="none"/><path d="M784 4.3V9.7L780.6 7Z" stroke="none"/></g>
<g stroke="#2a7fdc" stroke-width="1" fill="#2a7fdc"><line x1="792.5" y1="3" x2="792.5" y2="13"/><line x1="791" y1="11.5" x2="801" y2="11.5"/><path d="M791 4.5L792.5 2.8L794 4.5Z M799.8 10L801.6 11.5L799.8 13Z" stroke="none"/><path d="M795.5 4V10L800 7Z" stroke="none"/></g>
<g stroke="#2a7fdc" fill="none"><rect x="807.8" y="3.6" width="3.2" height="8.8" stroke-width="1"/><line x1="810" y1="8" x2="815" y2="8" stroke-width="1.6"/><path d="M814 5.2L817.4 8L814 10.8Z" fill="#2a7fdc" stroke="none"/></g>
</g>
<text x="72.50" y="382.30" font-size="12.40" fill="#111" font-family="Liberation Sans, sans-serif" textLength="73.60" lengthAdjust="spacingAndGlyphs" >RSI(14,14,14)</text>
<text x="151.80" y="382.30" font-size="12.40" fill="#3b8ff0" font-family="Liberation Sans, sans-serif" textLength="59.50" lengthAdjust="spacingAndGlyphs" >RSI1:44.72</text>
<text x="220.10" y="382.30" font-size="12.40" fill="#45c285" font-family="Liberation Sans, sans-serif" textLength="58.40" lengthAdjust="spacingAndGlyphs" >RSI2:44.72</text>
<text x="287.50" y="382.30" font-size="12.40" fill="#35a7ef" font-family="Liberation Sans, sans-serif" textLength="58.60" lengthAdjust="spacingAndGlyphs" >RSI3:44.72</text>
<text x="355.30" y="382.30" font-size="12.40" fill="#c4c4c4" font-family="Liberation Sans, sans-serif" textLength="53.10" lengthAdjust="spacingAndGlyphs" >L20:20.00</text>
<text x="417.50" y="382.30" font-size="12.40" fill="#c4c4c4" font-family="Liberation Sans, sans-serif" textLength="52.70" lengthAdjust="spacingAndGlyphs" >L30:30.00</text>
<text x="479.70" y="382.30" font-size="12.40" fill="#c4c4c4" font-family="Liberation Sans, sans-serif" textLength="53.00" lengthAdjust="spacingAndGlyphs" >L50:50.00</text>
<text x="541.10" y="382.30" font-size="12.40" fill="#c4c4c4" font-family="Liberation Sans, sans-serif" textLength="53.30" lengthAdjust="spacingAndGlyphs" >L70:70.00</text>
<text x="603.90" y="382.30" font-size="12.40" fill="#c4c4c4" font-family="Liberation Sans, sans-serif" textLength="53.10" lengthAdjust="spacingAndGlyphs" >L80:80.00</text>
<text x="72.50" y="504.60" font-size="12.40" fill="#111" font-family="Liberation Sans, sans-serif" textLength="84.50" lengthAdjust="spacingAndGlyphs" >MACD(26,12,9)</text>
<text x="163.10" y="504.60" font-size="12.40" fill="#3b8ff0" font-family="Liberation Sans, sans-serif" textLength="55.20" lengthAdjust="spacingAndGlyphs" >DIFF:-0.42</text>
<text x="227.80" y="504.60" font-size="12.40" fill="#45c285" font-family="Liberation Sans, sans-serif" textLength="54.80" lengthAdjust="spacingAndGlyphs" >DEA:-0.50</text>
<text x="292.00" y="504.60" font-size="12.40" fill="#35a7ef" font-family="Liberation Sans, sans-serif" textLength="62.60" lengthAdjust="spacingAndGlyphs" >MACD:0.15</text>
<g><circle cx="9" cy="497.9" r="3.5" fill="#fff" stroke="#000" stroke-width="1.1"/><circle cx="9" cy="497.9" r="1.9" fill="#ff0000"/><g stroke="#ff0000" stroke-width="1.1"><line x1="9" y1="491" x2="9" y2="493"/><line x1="9" y1="502.8" x2="9" y2="504.8"/><line x1="2.1" y1="497.9" x2="4.1" y2="497.9"/><line x1="13.9" y1="497.9" x2="15.9" y2="497.9"/><line x1="4.0" y1="492.9" x2="5.5" y2="494.4"/><line x1="12.5" y1="501.4" x2="14.0" y2="502.9"/><line x1="4.0" y1="502.9" x2="5.5" y2="501.4"/><line x1="12.5" y1="494.4" x2="14.0" y2="492.9"/></g></g>
<g shape-rendering="crispEdges" stroke="#c9d6e2" stroke-width="1">
<line x1="154.5" y1="596" x2="154.5" y2="601"/>
<line x1="238.5" y1="596" x2="238.5" y2="601"/>
<line x1="330.5" y1="596" x2="330.5" y2="601"/>
<line x1="414.5" y1="596" x2="414.5" y2="601"/>
<line x1="501.5" y1="596" x2="501.5" y2="601"/>
<line x1="594.5" y1="596" x2="594.5" y2="601"/>
<line x1="39.5" y1="615" x2="39.5" y2="617"/>
<line x1="80.5" y1="615" x2="80.5" y2="617"/>
<line x1="137.5" y1="615" x2="137.5" y2="617"/>
<line x1="172.5" y1="615" x2="172.5" y2="617"/>
<line x1="211.5" y1="615" x2="211.5" y2="617"/>
<line x1="244.5" y1="615" x2="244.5" y2="617"/>
<line x1="362.5" y1="615" x2="362.5" y2="617"/>
<line x1="482.5" y1="615" x2="482.5" y2="617"/>
<line x1="577.5" y1="615" x2="577.5" y2="617"/>
<line x1="611.5" y1="615" x2="611.5" y2="617"/>
<line x1="657.5" y1="615" x2="657.5" y2="617"/>
<line x1="697.5" y1="615" x2="697.5" y2="617"/>
</g>
<text x="155.70" y="608.20" font-size="12.20" fill="#1b1f2e" font-family="Liberation Sans, sans-serif" font-weight="bold" textLength="43.70" lengthAdjust="spacingAndGlyphs" >2025/06</text>
<text x="240.00" y="608.20" font-size="12.20" fill="#1b1f2e" font-family="Liberation Sans, sans-serif" font-weight="bold" textLength="43.70" lengthAdjust="spacingAndGlyphs" >2025/07</text>
<text x="331.30" y="608.20" font-size="12.20" fill="#1b1f2e" font-family="Liberation Sans, sans-serif" font-weight="bold" textLength="43.70" lengthAdjust="spacingAndGlyphs" >2025/08</text>
<text x="415.60" y="608.20" font-size="12.20" fill="#1b1f2e" font-family="Liberation Sans, sans-serif" font-weight="bold" textLength="43.70" lengthAdjust="spacingAndGlyphs" >2025/09</text>
<text x="502.90" y="608.20" font-size="12.20" fill="#1b1f2e" font-family="Liberation Sans, sans-serif" font-weight="bold" textLength="43.70" lengthAdjust="spacingAndGlyphs" >2025/10</text>
<text x="595.30" y="608.20" font-size="12.20" fill="#1b1f2e" font-family="Liberation Sans, sans-serif" font-weight="bold" textLength="43.70" lengthAdjust="spacingAndGlyphs" >2025/11</text>
<rect x="657.5" y="595.5" width="109.5" height="16.5" fill="#fff" stroke="#edf1f5" shape-rendering="crispEdges"/>
<text x="659.30" y="608.20" font-size="12.40" fill="#ff7a00" font-family="Liberation Sans, sans-serif" textLength="65.00" lengthAdjust="spacingAndGlyphs" >2025/11/25</text>
<text x="728.60" y="608.60" font-size="12.00" fill="#ff7a00" font-family="Liberation Sans, Noto Sans CJK SC, sans-serif" textLength="36.20" lengthAdjust="spacing">星期二</text>
<g shape-rendering="crispEdges"><rect x="0.5" y="595.5" width="69" height="19" fill="#fff" stroke="#c9d3dc"/><rect x="0" y="615" width="39" height="2" fill="#ff7200"/></g>
<text x="13.40" y="610.70" font-size="12.40" font-weight="bold" fill="#ff7200" font-family="Liberation Sans, Noto Sans CJK SC, sans-serif" textLength="26.00" lengthAdjust="spacingAndGlyphs">日线</text>
<path d="M44.6 610.6L48.7 601.4L52.8 610.6Z" fill="#ff7200"/>
<defs><filter id="wb" x="-10%" y="-20%" width="120%" height="140%"><feGaussianBlur stdDeviation="0.7"/></filter></defs>
<text x="761.3" y="591.9" font-size="30.2" font-family="Liberation Sans, sans-serif" fill="#9c8f86" opacity="0.55" filter="url(#wb)" textLength="98.5" lengthAdjust="spacing">FX678</text>
<text x="760.4" y="590.8" font-size="30.2" font-family="Liberation Sans, sans-serif" fill="#dbe6f3" textLength="98.5" lengthAdjust="spacing">FX678</text>
<text x="823.30" y="571.40" font-size="12.10" fill="#262b38" font-family="Liberation Sans, sans-serif" >-0.33</text>
</svg>
</body></html>
